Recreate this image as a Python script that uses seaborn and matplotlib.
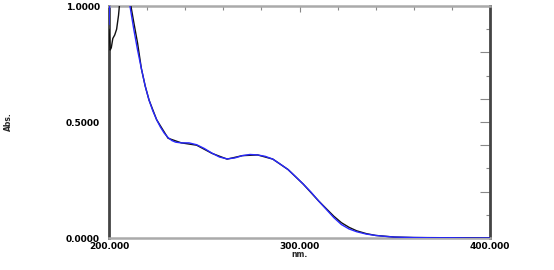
import matplotlib
matplotlib.use("Agg")
import matplotlib.pyplot as plt
import seaborn as sns
import pandas as pd

# Blue spectrum
wl_blue = [200, 200.5, 201, 203, 206, 209, 211, 213, 215, 217, 219, 221, 223, 225, 227, 229,
           231, 233, 235, 238, 242, 246, 250, 254, 258, 262, 266, 270, 274, 278, 282, 286,
           290, 294, 298, 302, 306, 310, 314, 318, 322, 326, 330, 335, 340, 345, 350, 360,
           370, 380, 390, 400]
abs_blue = [0.92, 1.05, 1.15, 1.25, 1.30, 1.15, 1.0, 0.90, 0.81, 0.73, 0.655, 0.595, 0.548,
            0.51, 0.478, 0.452, 0.433, 0.42, 0.413, 0.41, 0.41, 0.402, 0.386, 0.366, 0.349,
            0.341, 0.345, 0.355, 0.36, 0.358, 0.352, 0.34, 0.318, 0.295, 0.264, 0.232, 0.198,
            0.16, 0.124, 0.088, 0.058, 0.039, 0.027, 0.017, 0.011, 0.007, 0.004, 0.002, 0.001,
            0.001, 0.0, 0.0]

# Black spectrum
wl_black = [200, 200.6, 201.2, 202, 203, 204, 205, 206, 208, 210, 211.5, 213, 215, 217, 219,
            221, 225, 231, 238, 246, 254, 262, 270, 278, 286, 294, 302, 310, 318, 322, 326,
            330, 335, 340, 350, 360, 380, 400]
abs_black = [0.90, 0.81, 0.82, 0.86, 0.875, 0.90, 0.96, 1.05, 1.20, 1.20, 1.0, 0.93, 0.84,
             0.73, 0.655, 0.595, 0.51, 0.43, 0.41, 0.40, 0.365, 0.34, 0.355, 0.358, 0.34,
             0.295, 0.232, 0.16, 0.094, 0.066, 0.046, 0.031, 0.019, 0.011, 0.004, 0.002,
             0.001, 0.0]

y_major = [0.0, 0.2, 0.4, 0.5, 0.6, 0.8, 1.0]
y_major_labels = ["0.0000", "", "", "0.5000", "", "", "1.0000"]
y_minor = [0.1, 0.3, 0.7, 0.9]
x_major = [200, 300, 400]
x_major_labels = ["200.000", "300.000", "400.000"]
x_minor = [220, 240, 260, 280, 320, 340, 360, 380]

sns.set_style("white")
plt.rcParams["font.family"] = ["DejaVu Sans"]

fig = plt.figure(figsize=(5.54, 2.70), dpi=100)
ax = fig.add_axes([109 / 554, 1 - 238 / 270, 381 / 554, 232 / 270])

df_b = pd.DataFrame({"nm": wl_black, "abs": abs_black})
df_u = pd.DataFrame({"nm": wl_blue, "abs": abs_blue})
sns.lineplot(data=df_b, x="nm", y="abs", ax=ax, color="#111111", linewidth=1.0,
             estimator=None, sort=False, zorder=3)
sns.lineplot(data=df_u, x="nm", y="abs", ax=ax, color="#2828ff", linewidth=1.0,
             estimator=None, sort=False, zorder=4)

ax.set_xlim(200, 400)
ax.set_ylim(0, 1.0)

ax.set_yticks(y_major)
ax.set_yticklabels(y_major_labels)
ax.set_yticks(y_minor, minor=True)
ax.set_xticks(x_major)
ax.set_xticklabels(x_major_labels)
ax.set_xticks(x_minor, minor=True)

ax.tick_params(axis="both", which="both", direction="in", colors="#888888",
               labelcolor="black", top=True, right=True, width=0.8)
ax.tick_params(axis="y", which="major", length=7, pad=6.5, labelsize=6.5)
ax.tick_params(axis="y", which="minor", length=3)
ax.tick_params(axis="x", which="major", length=4, pad=3, labelsize=6.5)
ax.tick_params(axis="x", which="minor", length=3)
for lab in ax.get_xticklabels() + ax.get_yticklabels():
    lab.set_fontweight("bold")

for s in ["left", "right"]:
    ax.spines[s].set_color("#444444")
    ax.spines[s].set_linewidth(2.0)
for s in ["top", "bottom"]:
    ax.spines[s].set_color("#aaaaaa")
    ax.spines[s].set_linewidth(1.8)

ax.set_xlabel("nm.", fontsize=5.5, fontweight="bold", labelpad=-1)
ax.set_ylabel("Abs.", fontsize=5.5, fontweight="bold", labelpad=38)

fig.savefig("out.png", dpi=100)
